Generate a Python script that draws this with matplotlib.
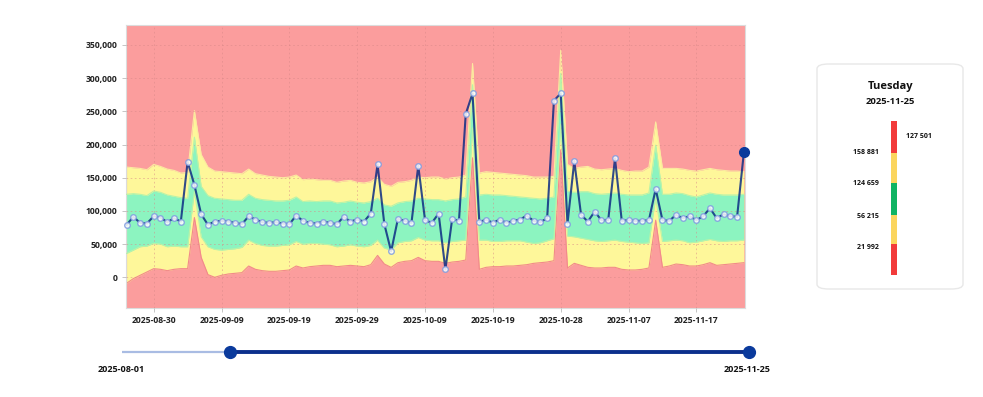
import matplotlib
matplotlib.use("Agg")
import matplotlib.pyplot as plt
import matplotlib.dates as mdates
import numpy as np
import pandas as pd
from matplotlib.patches import FancyBboxPatch, Rectangle
from matplotlib.ticker import FuncFormatter

plt.rcParams['font.family'] = ['Open Sans', 'DejaVu Sans']

# ---------------- data (values in thousands) ----------------
start_date = "2025-08-26"
values_k = [79, 91, 82, 81, 92, 90, 83, 89, 84, 174,
            139, 95, 79, 84, 85, 84, 82, 80, 92, 87,
            83, 82, 83, 81, 80, 93, 85, 82, 81, 84,
            82, 80, 91, 84, 87, 84, 96, 170, 80, 39,
            88, 85, 82, 168, 86, 82, 96, 12, 88, 85,
            246, 277, 83, 87, 82, 87, 82, 85, 87, 93,
            85, 83, 89, 266, 277, 81, 175, 94, 84, 99,
            86, 86, 179, 85, 86, 85, 85, 86, 133, 86,
            85, 94, 89, 92, 86, 92, 104, 89, 95, 92,
            91, 188]

upper_outer_k = [166, 165, 164, 162, 170, 167, 163, 161, 157, 158,
                 251, 185, 166, 160, 159, 158, 157, 156, 163, 156,
                 154, 152, 151, 150, 151, 154, 147, 148, 147, 146,
                 146, 143, 145, 146, 143, 142, 144, 151, 140, 137,
                 143, 144, 146, 151, 150, 151, 151, 148, 150, 151,
                 154, 322, 157, 159, 158, 157, 156, 155, 154, 153,
                 151, 151, 151, 152, 342, 170, 164, 166, 167, 163,
                 162, 163, 164, 161, 159, 160, 160, 166, 234, 164,
                 164, 164, 163, 161, 160, 162, 164, 162, 161, 160,
                 160, 159]

upper_inner_k = [125, 126, 125, 123, 130, 128, 124, 122, 120, 119,
                 211, 137, 123, 119, 118, 117, 116, 116, 125, 119,
                 117, 116, 115, 115, 116, 121, 114, 115, 114, 115,
                 115, 112, 113, 115, 113, 112, 114, 119, 109, 107,
                 112, 114, 115, 119, 118, 117, 117, 115, 117, 118,
                 121, 290, 124, 125, 124, 124, 123, 122, 121, 120,
                 119, 118, 119, 121, 307, 130, 128, 129, 129, 126,
                 125, 126, 127, 125, 124, 124, 124, 127, 199, 125,
                 125, 127, 126, 123, 121, 124, 127, 125, 124, 124,
                 124, 125]

lower_inner_k = [36, 41, 46, 47, 51, 50, 46, 47, 46, 46,
                 130, 61, 46, 42, 41, 42, 43, 45, 56, 51,
                 48, 47, 47, 48, 49, 54, 50, 51, 51, 50,
                 49, 46, 47, 49, 47, 46, 48, 56, 44, 41,
                 52, 54, 55, 60, 56, 55, 55, 52, 54, 55,
                 56, 225, 56, 56, 54, 54, 55, 55, 55, 53,
                 51, 52, 55, 58, 230, 62, 61, 59, 57, 55,
                 54, 55, 56, 54, 53, 52, 51, 52, 120, 54,
                 55, 56, 55, 52, 53, 55, 57, 55, 54, 55,
                 55, 56]

lower_outer_k = [-9, -2, 3, 8, 13, 12, 10, 12, 13, 13,
                 90, 30, 4, 0, 3, 5, 6, 7, 17, 12,
                 10, 9, 9, 10, 11, 17, 14, 16, 17, 18,
                 18, 16, 17, 18, 17, 16, 19, 33, 20, 15,
                 22, 24, 25, 30, 25, 24, 24, 21, 23, 24,
                 26, 180, 12, 15, 16, 16, 17, 17, 18, 19,
                 21, 22, 23, 25, 192, 14, 21, 18, 15, 14,
                 14, 15, 15, 12, 11, 11, 12, 14, 86, 15,
                 17, 20, 19, 17, 17, 19, 22, 18, 19, 20,
                 21, 22]

tick_dates = ["2025-08-30", "2025-09-09", "2025-09-19", "2025-09-29", "2025-10-09",
              "2025-10-19", "2025-10-29", "2025-11-08", "2025-11-18"]
tick_labels = ["2025-08-30", "2025-09-09", "2025-09-19", "2025-09-29", "2025-10-09",
               "2025-10-19", "2025-10-28", "2025-11-07", "2025-11-17"]
y_ticks = [0, 50000, 100000, 150000, 200000, 250000, 300000, 350000]

# side card
card_day = "Tuesday"
card_date = "2025-11-25"
card_value = "127 501"
card_thresholds = ["158 881", "124 659", "56 215", "21 992"]
card_colors = ["#f23b3b", "#fbd55e", "#10b463", "#fbd55e", "#f23b3b"]

# range slider
slider_min = "2025-08-01"
slider_max = "2025-11-25"
slider_lo = "2025-08-21"
slider_hi = "2025-11-25"

# ---------------- figure ----------------
W, H = 983, 397
fig = plt.figure(figsize=(W / 100, H / 100), dpi=100)
fig.patch.set_facecolor("white")

def fx(px):
    return px / W

def fy(py):
    return 1 - py / H

ax = fig.add_axes([fx(126), fy(307.5), fx(745) - fx(126), fy(25) - fy(307.5)])

dates = pd.date_range(start_date, periods=len(values_k), freq="D")
vals = np.array(values_k) * 1000
uo = np.array(upper_outer_k) * 1000
ui = np.array(upper_inner_k) * 1000
li = np.array(lower_inner_k) * 1000
lo = np.array(lower_outer_k) * 1000

red = "#fb9d9d"
yellow = "#fef79a"
green = "#8cf4c0"
ax.set_facecolor(red)
ax.fill_between(dates, lo, uo, color=yellow, linewidth=0, zorder=1)
ax.fill_between(dates, li, ui, color=green, linewidth=0, zorder=2)
ax.plot(dates, lo, color="#f28a8a", lw=0.8, zorder=2)
ax.plot(dates, uo, color="#fbe9a0", lw=0.8, zorder=2)
ax.plot(dates, ui, color="#b9f3a8", lw=0.8, zorder=3)
ax.plot(dates, li, color="#b9f3a8", lw=0.8, zorder=3)

ax.plot(dates, vals, color="#0d2d84", alpha=0.85, lw=1.5, zorder=5,
        marker="o", markersize=4.0, markerfacecolor="white",
        markeredgecolor="#7f9ce0", markeredgewidth=1.0, clip_on=False)
ax.plot(dates[-1:], vals[-1:], "o", color="#0a3a9c", markersize=7, zorder=6, clip_on=False)

ax.set_xlim(dates[0] - pd.Timedelta(hours=2), dates[-1] + pd.Timedelta(hours=4))
ax.set_ylim(-45500, 380000)

ax.set_yticks(y_ticks)
ax.yaxis.set_major_formatter(FuncFormatter(lambda v, p: f"{int(v):,}"))
ax.set_xticks(pd.to_datetime(tick_dates))
ax.set_xticklabels(tick_labels)

ax.grid(True, color="#d98888", linestyle=(0, (2, 3)), linewidth=0.6, alpha=0.6, zorder=0.5)
ax.set_axisbelow(False)
for sp in ax.spines.values():
    sp.set_color("#dcdcdc")
    sp.set_linewidth(0.8)
ax.tick_params(axis="both", colors="#bbbbbb", length=3, width=0.6, labelsize=6.2, pad=3)
for lab in ax.get_xticklabels() + ax.get_yticklabels():
    lab.set_color("#222222")
    lab.set_fontweight("bold")

# ---------------- range slider ----------------
sax = fig.add_axes([fx(122), fy(362), fx(749) - fx(122), fy(342) - fy(362)])
sax.set_axis_off()
smin, smax = pd.Timestamp(slider_min), pd.Timestamp(slider_max)
slo, shi = pd.Timestamp(slider_lo), pd.Timestamp(slider_hi)
sax.set_xlim(smin, smax)
sax.set_ylim(-1, 1)
sax.plot([smin, slo], [0, 0], color="#a9bce3", lw=1.6, solid_capstyle="butt")
sax.plot([slo, shi], [0, 0], color="#0b2f8c", lw=2.8, solid_capstyle="butt")
sax.plot([slo, shi], [0, 0], "o", color="#0a3a9c", markersize=8.5, clip_on=False, zorder=5)
fig.text(fx(121), fy(370), slider_min, ha="center", va="center", fontsize=6.5,
         fontweight="bold", color="#111111")
fig.text(fx(747), fy(370), slider_max, ha="center", va="center", fontsize=6.5,
         fontweight="bold", color="#111111")

# ---------------- side card ----------------
card = FancyBboxPatch((fx(817), fy(289)), fx(963) - fx(817), fy(64) - fy(289),
                      boxstyle="round,pad=0,rounding_size=0.012",
                      transform=fig.transFigure, facecolor="white",
                      edgecolor="#e8e8e8", linewidth=1.0)
fig.patches.append(card)
fig.text(fx(890.5), fy(86), card_day, ha="center", va="center", fontsize=8,
         fontweight="bold", color="#111111")
fig.text(fx(890.5), fy(102), card_date, ha="center", va="center", fontsize=6.8,
         fontweight="bold", color="#111111")

seg_edges = [121, 152.7, 183.3, 215, 244.3, 275]
for k, c in enumerate(card_colors):
    y0, y1 = seg_edges[k], seg_edges[k + 1]
    fig.patches.append(Rectangle((fx(890.5), fy(y1)), fx(896.5) - fx(890.5), fy(y0) - fy(y1),
                                 transform=fig.transFigure, facecolor=c, edgecolor="none"))
for k, t in enumerate(card_thresholds):
    yv = [152.7, 183.3, 216.5, 247.5][k]
    fig.text(fx(878.5), fy(yv), t, ha="right", va="center", fontsize=5,
             fontweight="bold", color="#111111")
fig.text(fx(905.5), fy(136.7), card_value, ha="left", va="center", fontsize=5,
         fontweight="bold", color="#111111")

fig.savefig("out.png", dpi=100)
